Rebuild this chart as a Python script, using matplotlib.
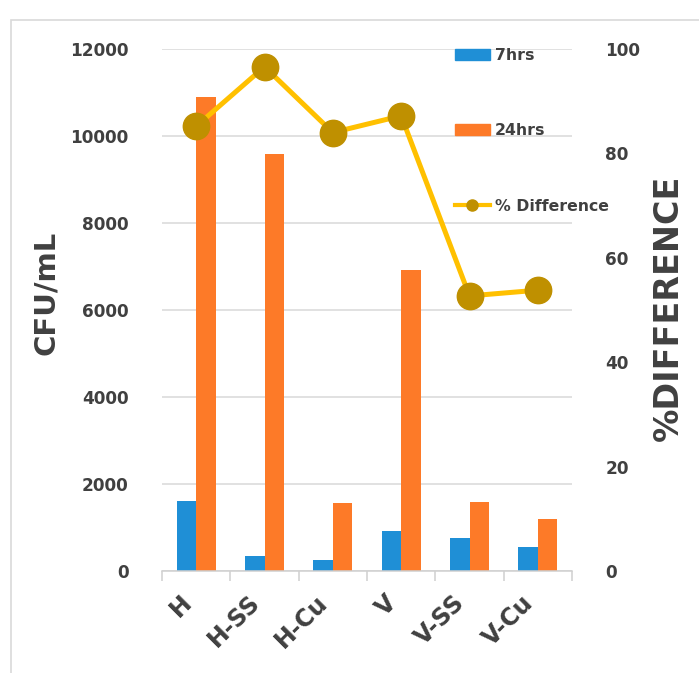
import matplotlib.pyplot as plt
import numpy as np
from matplotlib.patches import Patch, Rectangle
from matplotlib.lines import Line2D
from matplotlib.transforms import ScaledTranslation

# sample groups and counts
groups = ['H', 'H-SS', 'H-Cu', 'V', 'V-SS', 'V-Cu']
cfu_7hrs = [1620, 350, 250, 920, 770, 560]
cfu_24hrs = [10900, 9580, 1560, 6920, 1590, 1190]
pct_diff = [85.2, 96.6, 84.0, 87.2, 52.7, 53.8]

blue = '#1f8fd6'
orange = '#fd7a28'
gold_line = '#ffc000'
gold_dot = '#bf9000'
txt = '#404040'

W, H = 699, 673
fig = plt.figure(figsize=(W / 100, H / 100), dpi=100)

# light frame round the whole chart
fig.patches.append(Rectangle((11 / W, -0.1), 1.5, 1 - 20 / H + 0.1,
                             transform=fig.transFigure, fill=False,
                             edgecolor='#d9d9d9', lw=1.2))

left, right, bottom, top = 162, 572, 571, 49
ax = fig.add_axes([left / W, 1 - bottom / H, (right - left) / W, (bottom - top) / H])

x = np.arange(len(groups))
bw = 0.285
ax.bar(x - bw / 2, cfu_7hrs, bw, color=blue, zorder=2)
ax.bar(x + bw / 2, cfu_24hrs, bw, color=orange, zorder=2)

ax.set_xlim(-0.5, len(groups) - 0.5)
ax.set_ylim(0, 12000)
ax.set_yticks(np.arange(0, 12001, 2000))
ax.grid(axis='y', color='#d9d9d9', lw=1.1, zorder=0)
for s in ['left', 'right', 'top']:
    ax.spines[s].set_visible(False)
ax.spines['bottom'].set_color('#d0d0d0')
ax.spines['bottom'].set_linewidth(1.1)

ax.set_xticks(x)
ax.set_xticklabels(groups, rotation=45, ha='right', va='top',
                   fontsize=17, fontweight='bold', color=txt)
shift = ScaledTranslation(6 / 100, -2 / 100, fig.dpi_scale_trans)
for t in ax.get_xticklabels():
    t.set_transform(t.get_transform() + shift)
ax.set_xticks(np.arange(-0.5, len(groups)), minor=True)
ax.tick_params(axis='x', which='major', length=0, pad=14)
ax.tick_params(axis='x', which='minor', length=7, color='#d0d0d0', width=1.1)
ax.tick_params(axis='y', length=0, pad=24, labelsize=12.2, labelcolor=txt)
for t in ax.get_yticklabels():
    t.set_fontweight('bold')

ax2 = ax.twinx()
ax2.plot(x, pct_diff, color=gold_line, lw=3.6, marker='o', markersize=19,
         markerfacecolor=gold_dot, markeredgecolor=gold_dot, zorder=3)
ax2.set_ylim(0, 100)
ax2.set_yticks(np.arange(0, 101, 20))
for s in ['left', 'right', 'top', 'bottom']:
    ax2.spines[s].set_visible(False)
ax2.tick_params(axis='y', length=0, pad=24, labelsize=12.2, labelcolor=txt)
for t in ax2.get_yticklabels():
    t.set_fontweight('bold')

fig.text(46 / W, 1 - 293 / H, 'CFU/mL', rotation=90, ha='center', va='center',
         fontsize=21, fontweight='bold', color=txt)
fig.text(668 / W, 1 - 308 / H, '%DIFFERENCE', rotation=90, ha='center', va='center',
         fontsize=24, fontweight='bold', color=txt)

handles = [Patch(color=blue), Patch(color=orange),
           Line2D([], [], color=gold_line, lw=3, marker='o', markersize=8,
                  markerfacecolor=gold_dot, markeredgecolor=gold_dot)]
leg = ax2.legend(handles, ['7hrs', '24hrs', '% Difference'],
                 loc='upper left', bbox_to_anchor=(455 / W, 1 - 48 / H),
                 bbox_transform=fig.transFigure, frameon=False,
                 prop={'size': 11.3, 'weight': 'bold'}, labelcolor=txt,
                 handlelength=2.2, handleheight=0.7, handletextpad=0.35,
                 labelspacing=3.85, borderpad=0, borderaxespad=0)

fig.savefig('out.png', dpi=100)
